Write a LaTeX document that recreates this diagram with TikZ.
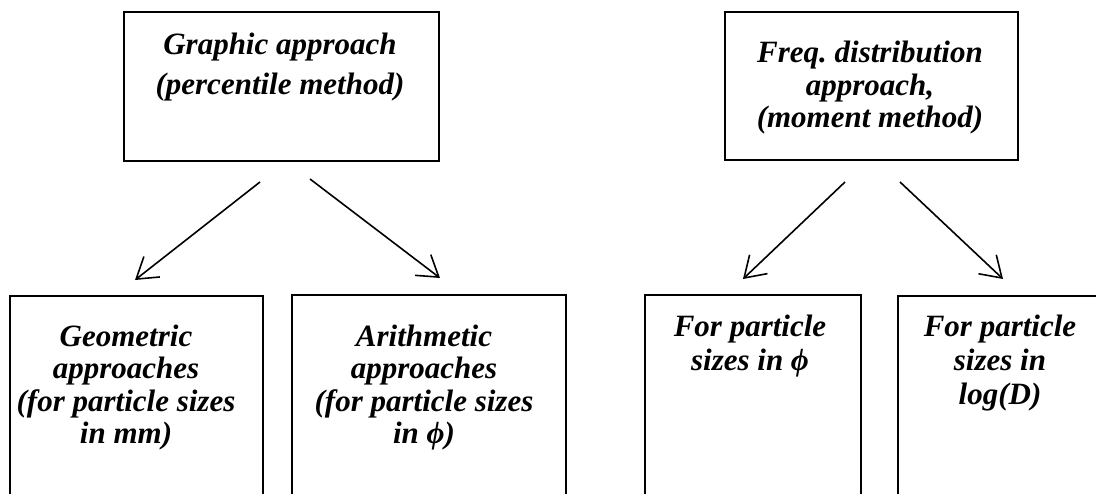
\documentclass[tikz,border=0pt]{standalone}
\usepackage{fontspec}
\setmainfont{Liberation Serif}
\usetikzlibrary{arrows.meta}
\frenchspacing
\tikzset{
  box/.style={draw=black, line width=2pt, inner sep=0pt, rectangle},
  txt/.style={align=center, inner sep=0pt, font=\fontsize{31}{32}\selectfont\bfseries\itshape, anchor=base},
  conn/.style={line width=1.6pt, -{Straight Barb[length=20pt,width=26pt,line width=1.6pt]}}
}
\begin{document}
\begin{tikzpicture}[x=1pt,y=-1pt]
\useasboundingbox (0,0) rectangle (1096,494);
\clip (0,0) rectangle (1096,494);
% boxes
\node[box, minimum width=315pt, minimum height=149pt, anchor=north west] (g) at (123,11) {};
\node[box, minimum width=293pt, minimum height=148pt, anchor=north west] (f) at (724,11) {};
\node[box, minimum width=253pt, minimum height=230pt, anchor=north west] (a) at (9,295) {};
\node[box, minimum width=274pt, minimum height=230pt, anchor=north west] (b) at (291,294) {};
\node[box, minimum width=216pt, minimum height=230pt, anchor=north west] (c) at (644,294) {};
\node[box, minimum width=220pt, minimum height=230pt, anchor=north west] (d) at (897,295) {};
% texts (anchor = baseline of the last line)
\node[txt] (gt) at (280,95) {Graphic approach\\[8pt](percentile method)};
\node[txt] (ft) at (870,128) {Freq.\ distribution\\[1pt]approach,\\(moment method)};
\node[txt] (at) at (126,443) {Geometric\\approaches\\[1pt](for particle sizes\\in mm)};
\node[txt] (bt) at (424,443) {Arithmetic\\approaches\\[1pt](for particle sizes\\in ϕ)};
\node[txt] (ct) at (750,371) {For particle\\[2pt]sizes in ϕ};
\node[txt] (dt) at (1000,405) {For particle\\[2pt]sizes in\\[2pt]log(D)};
% connector endpoints
\coordinate (g1) at (260,182);
\coordinate (g2) at (310,179);
\coordinate (a1) at (135,280);
\coordinate (b1) at (440,278);
\coordinate (f1) at (845,182);
\coordinate (f2) at (900,182);
\coordinate (c1) at (743,279);
\coordinate (d1) at (1003,279);
\draw[conn] (g1) -- (a1);
\draw[conn] (g2) -- (b1);
\draw[conn] (f1) -- (c1);
\draw[conn] (f2) -- (d1);
\end{tikzpicture}
\end{document}
